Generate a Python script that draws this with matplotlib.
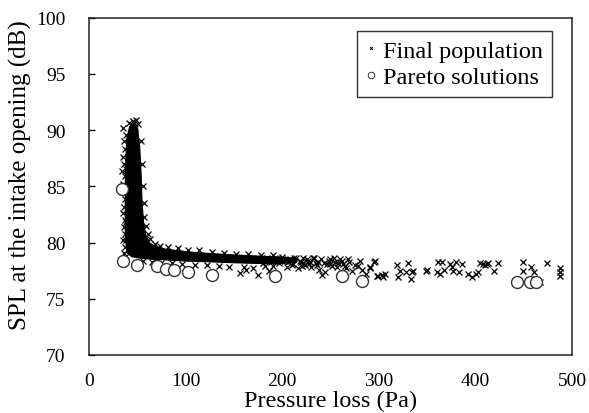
import matplotlib
matplotlib.use("Agg")
import matplotlib.pyplot as plt

plt.rcParams['font.family'] = ['Liberation Serif', 'DejaVu Serif']

# dense core of the final population (outline of the solid black region)
core_x = [39, 42, 46, 50, 52.5, 54, 55, 56.5, 59, 63, 70, 80, 105, 130, 150, 175, 200, 215,
          215, 195, 170, 150, 120, 100, 80, 60, 50, 44, 39, 37.5, 37.5, 38]
core_y = [89.2, 90.3, 90.6, 90.4, 88.5, 86.0, 83.5, 81.8, 80.6, 79.95, 79.6, 79.4, 79.15, 79.0, 78.9, 78.8, 78.7, 78.6,
          78.25, 78.1, 78.15, 78.2, 78.3, 78.35, 78.45, 78.55, 78.65, 78.75, 79.1, 81.0, 84.0, 87.0]

# final population, individual points
pop_x = [35.5, 38, 36, 37, 35, 36.5, 34.5, 37, 35.5, 36, 37.5, 36, 35, 37, 36, 37.5, 35.5, 37, 36, 38,
         38.5, 38.5, 38.5, 38,
         41, 44, 46, 49, 47.5, 43, 50.5,
         53.5, 55, 55.5, 56.5, 57, 58.5, 61, 63, 68, 74, 82, 92, 102, 114, 127, 140, 152, 165, 178, 190,
         56, 65, 75, 86, 96, 110, 122, 135, 145, 156, 160, 163, 170, 175, 182, 186,
         177, 180, 184, 188, 191, 193, 197, 200, 203, 205, 208, 211, 214, 216, 219, 222, 224, 227, 230,
         232, 235, 238, 240, 241, 244, 246, 249, 252, 255, 257, 260, 263, 266, 269, 272, 275, 278, 281,
         283, 287, 291, 296, 298,
         200, 206, 212, 218, 222, 226, 229, 233, 237, 243, 248, 254, 258, 262, 268,
         210, 220, 228, 236, 250, 265,
         291, 295, 299, 303, 306, 304, 319, 322, 320, 330, 328, 334, 335, 333, 349, 350,
         361, 365, 360, 363, 368, 374, 376, 380, 377, 383, 386, 392, 397, 401, 403, 405, 410, 413,
         408, 412, 423, 419, 449, 449, 458, 461, 474, 488, 488, 488, 467]
pop_y = [90.2, 89.6, 89.0, 88.3, 87.6, 87.0, 86.4, 85.9, 85.2, 84.5, 83.9, 83.2, 82.6, 82.0, 81.4, 80.8,
         80.2, 79.6, 79.1, 78.8,
         86.5, 84.8, 81.8, 80.2,
         90.6, 90.4, 90.8, 90.9, 90.2, 89.7, 90.5,
         89.0, 87.0, 85.0, 83.5, 82.3, 81.5, 80.8, 80.3, 79.9, 79.7, 79.6, 79.5, 79.35, 79.3, 79.2, 79.1,
         79.0, 78.95, 78.9, 78.85,
         78.4, 78.3, 78.2, 78.15, 78.1, 78.0, 78.0, 77.95, 77.85, 77.3, 77.8, 77.6, 77.7, 77.1, 77.9, 77.5,
         78.5, 78.2, 78.6, 78.3, 77.9, 78.6, 78.2, 78.7, 78.4, 77.8, 78.5, 78.1, 78.6, 77.7, 78.3, 78.6,
         78.0, 78.4, 77.8, 78.6, 78.2, 77.6, 78.5, 77.1, 77.4, 78.1, 78.5, 77.9, 78.3, 77.8, 78.5, 78.1,
         77.7, 78.3, 77.5, 78.0, 77.9, 78.4, 77.6, 77.2, 77.7, 78.4, 77.0,
         78.5, 78.3, 78.6, 78.4, 78.2, 78.5, 78.3, 78.6, 78.3, 78.2, 78.4, 78.6, 78.2, 78.4, 78.5,
         78.0, 77.9, 78.1, 78.0, 78.1, 77.9,
         77.8, 78.3, 77.0, 77.1, 77.2, 76.9, 78.0, 77.5, 76.9, 78.2, 77.4, 77.4, 77.5, 76.8, 77.5, 77.6,
         78.3, 78.3, 77.4, 77.2, 77.6, 78.1, 77.8, 78.3, 77.5, 77.4, 78.1, 77.2, 76.9, 77.2, 77.4, 78.2,
         78.0, 78.2, 78.1, 78.1, 78.2, 77.5, 78.3, 77.5, 77.8, 77.4, 78.2, 77.7, 77.4, 77.0, 76.5]

# Pareto solutions
par_x = [34.2, 34.9, 50.0, 70.4, 79.7, 88.0, 102.5, 127.3, 192.5, 261.6, 282.3, 442.8, 456.5, 462.7]
par_y = [84.76, 78.38, 78.03, 77.87, 77.64, 77.53, 77.38, 77.07, 77.02, 77.05, 76.6, 76.49, 76.49, 76.49]

fig = plt.figure(figsize=(5.89, 4.14), dpi=100)
ax = fig.add_axes([0.1511, 0.1401, 0.820, 0.815])

ax.fill(core_x, core_y, color='black', lw=0.8, zorder=2)
ax.plot(pop_x, pop_y, 'x', color='black', ms=3.8, mew=0.9, zorder=3, label='Final population')
ax.plot(par_x, par_y, 'o', mfc='white', mec='#333333', ms=8.6, mew=1.0, zorder=4,
        label='Pareto solutions')

ax.set_xlim(0, 500)
ax.set_ylim(70, 100)
ax.set_xticks(range(0, 501, 100))
ax.set_yticks(range(70, 101, 5))
ax.tick_params(axis='y', direction='in', length=4.3, width=1.0, pad=17, labelsize=14)
ax.tick_params(axis='x', length=0, pad=12, labelsize=14)
for s in ax.spines.values():
    s.set_linewidth(1.1)
    s.set_color('#222222')

ax.set_xlabel('Pressure loss (Pa)', fontsize=17.5, labelpad=1)
ax.set_ylabel('SPL at the intake opening (dB)', fontsize=18)
ax.yaxis.set_label_coords(-0.118, 0.536)

leg = ax.legend(loc='upper right', bbox_to_anchor=(0.9586, 0.96), borderaxespad=0,
                fontsize=17.5, frameon=True, fancybox=False, edgecolor='black',
                handlelength=0.5, handletextpad=0.25, labelspacing=0.2, borderpad=0.35,
                markerscale=0.55)
leg.get_frame().set_linewidth(1.0)
for h in leg.legend_handles:
    h.set_markeredgewidth(0.7)

fig.savefig('out.png', dpi=100)
